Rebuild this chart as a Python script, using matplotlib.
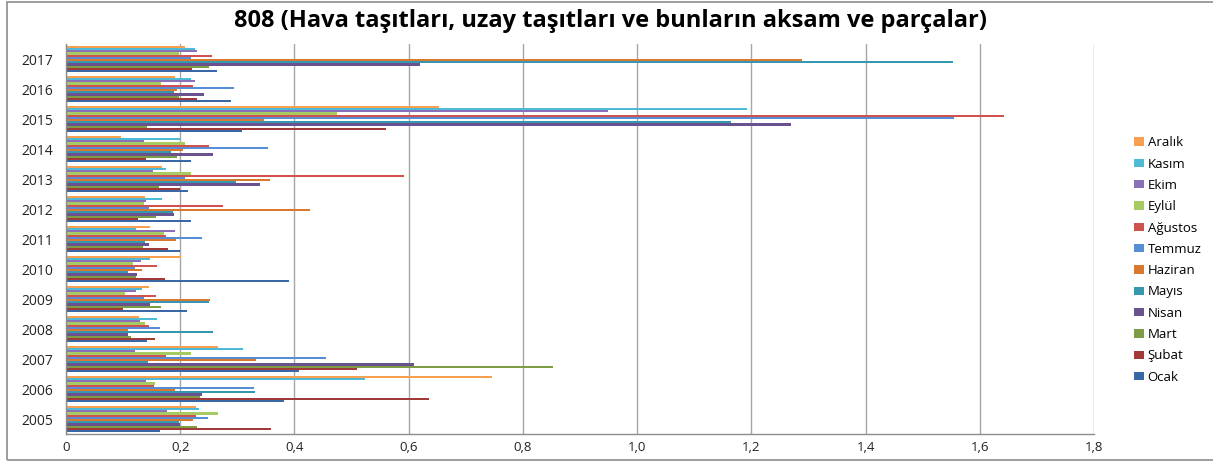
import matplotlib
matplotlib.use("Agg")
import matplotlib.pyplot as plt
import numpy as np
from matplotlib.patches import Rectangle

years = ["2005", "2006", "2007", "2008", "2009", "2010", "2011", "2012",
         "2013", "2014", "2015", "2016", "2017"]
months = ["Ocak", "Şubat", "Mart", "Nisan", "Mayıs", "Haziran",
          "Temmuz", "Ağustos", "Eylül", "Ekim", "Kasım", "Aralık"]

ocak    = [0.165, 0.382, 0.408, 0.142, 0.211, 0.391, 0.199, 0.218, 0.213, 0.219, 0.309, 0.289, 0.265]
subat   = [0.359, 0.636, 0.510, 0.156, 0.100, 0.173, 0.178, 0.126, 0.199, 0.140, 0.561, 0.229, 0.220]
mart    = [0.229, 0.235, 0.853, 0.113, 0.167, 0.122, 0.135, 0.157, 0.163, 0.195, 0.142, 0.198, 0.251]
nisan   = [0.200, 0.238, 0.610, 0.108, 0.147, 0.125, 0.145, 0.189, 0.339, 0.258, 1.270, 0.242, 0.619]
mayis   = [0.198, 0.331, 0.143, 0.258, 0.250, 0.108, 0.138, 0.188, 0.298, 0.183, 1.164, 0.189, 1.553]
haziran = [0.222, 0.190, 0.332, 0.109, 0.252, 0.133, 0.192, 0.428, 0.357, 0.204, 0.347, 0.194, 1.288]
temmuz  = [0.249, 0.330, 0.456, 0.165, 0.137, 0.120, 0.238, 0.146, 0.209, 0.353, 1.555, 0.294, 0.218]
agustos = [0.228, 0.154, 0.175, 0.145, 0.157, 0.159, 0.175, 0.275, 0.592, 0.251, 1.642, 0.222, 0.256]
eylul   = [0.267, 0.156, 0.218, 0.139, 0.103, 0.118, 0.171, 0.137, 0.218, 0.209, 0.475, 0.167, 0.198]
ekim    = [0.177, 0.140, 0.120, 0.130, 0.123, 0.131, 0.190, 0.140, 0.153, 0.137, 0.949, 0.225, 0.229]
kasim   = [0.233, 0.524, 0.310, 0.159, 0.133, 0.147, 0.123, 0.168, 0.175, 0.199, 1.192, 0.219, 0.226]
aralik  = [0.228, 0.746, 0.267, 0.127, 0.145, 0.202, 0.147, 0.139, 0.168, 0.096, 0.653, 0.191, 0.208]

series = [ocak, subat, mart, nisan, mayis, haziran, temmuz, agustos, eylul, ekim, kasim, aralik]
colors = ['#3A67A5', '#A23B38', '#7D9C43', '#6A5190', '#3597B0', '#D9792F',
          '#568ED6', '#D0514D', '#A5CB62', '#8C6FB9', '#4EBBD6', '#F9A050']

title = "808 (Hava taşıtları, uzay taşıtları ve bunların aksam ve parçalar)"

plt.rcParams['font.family'] = ['Open Sans', 'DejaVu Sans']

fig = plt.figure(figsize=(12.13, 4.61), dpi=100)
ax = fig.add_axes([66/1213, 1 - 434/461, (1094-66)/1213, (434-44)/461])

y = np.arange(len(years))
group = 0.87
h = group / len(series)
for i, (vals, c, name) in enumerate(zip(series, colors, months)):
    ax.barh(y - group/2 + h*(i + 0.5), vals, height=h, color=c, label=name,
            edgecolor='none')

ax.set_xlim(0, 1.8)
ax.set_ylim(-0.5, len(years) - 0.5)
ticks = np.arange(0, 1.81, 0.2)
ax.set_xticks(ticks)
ax.set_xticklabels([("%.1f" % t).replace('.', ',') if t > 0 else "0" for t in ticks],
                   fontsize=9.5, color='#222222')
ax.set_yticks(y)
ax.set_yticklabels(years, fontsize=10, color='#222222')
ax.tick_params(axis='x', length=0, pad=5)
ax.tick_params(axis='y', length=0, pad=9)
ax.grid(axis='x', color='#A6A6A6', linewidth=1)
ax.set_axisbelow(True)
for s in ['top', 'right']:
    ax.spines[s].set_visible(False)
for s in ['left', 'bottom']:
    ax.spines[s].set_color('#8C8C8C')
    ax.spines[s].set_linewidth(1)

handles, labels = ax.get_legend_handles_labels()
leg = fig.legend(handles[::-1], labels[::-1], loc='center left',
                 bbox_to_anchor=(1122/1213, 1 - 260/461), frameon=False,
                 fontsize=9.5, handlelength=0.75, handleheight=0.6,
                 labelspacing=0.63, handletextpad=0.3)

fig.text(611/1213, 1 - 21/461, title, ha='center', va='center',
         fontsize=17, fontweight='bold', color='#000000')

fig.patches.append(Rectangle((7/1213, 1/461), 1210/1213, 458/461,
                             transform=fig.transFigure, fill=False,
                             edgecolor='#8C8C8C', linewidth=1.2))

fig.savefig("out.png", dpi=100)
